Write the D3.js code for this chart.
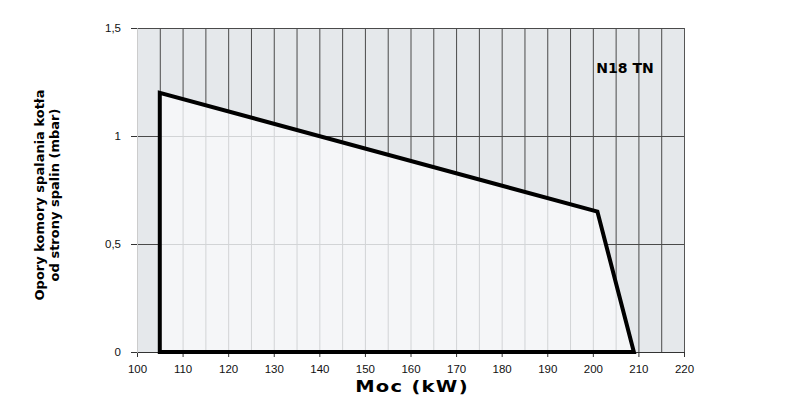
<!DOCTYPE html>
<html><head><meta charset="utf-8">
<script src="https://cdn.jsdelivr.net/npm/d3@7"></script>
<style>body{margin:0;background:#fff}</style>
</head><body>
<svg id="c" width="800" height="400"></svg>
<script>
const xTicks = [100,110,120,130,140,150,160,170,180,190,200,210,220];
const yTicks = [0,0.5,1,1.5];
const yTickLabels = ["0","0,5","1","1,5"];
const gridX = d3.range(100,221,5);
const curveX = [105,105,201,209];
const curveY = [0,1.2,0.65,0];
const title = "N18 TN";
const xLabel = "Moc (kW)";
const yLabel = ["Opory komory spalania kotła","od strony spalin (mbar)"];

const svg = d3.select("#c");
const x = d3.scaleLinear().domain([100,220]).range([137,684]);
const y = d3.scaleLinear().domain([0,1.5]).range([352,28]);
const pts = curveX.map((d,i)=>[x(d),y(curveY[i])]);
const ptsStr = pts.map(p=>p.join(",")).join(" ");

svg.append("rect").attr("x",x(100)).attr("y",y(1.5)).attr("width",x(220)-x(100)).attr("height",y(0)-y(1.5)).attr("fill","#e5e8eb");
const gDark = svg.append("g").attr("stroke","#4a4a4a").attr("stroke-width",1);
gridX.forEach(v=>gDark.append("line").attr("x1",x(v)+0.5).attr("x2",x(v)+0.5).attr("y1",y(1.5)).attr("y2",y(0)));
[0.5,1,1.5].forEach(v=>gDark.append("line").attr("x1",x(100)).attr("x2",x(220)).attr("y1",y(v)+0.5).attr("y2",y(v)+0.5));

svg.append("clipPath").attr("id","poly").append("polygon").attr("points",ptsStr);
svg.append("polygon").attr("points",ptsStr).attr("fill","#f5f6f8");
const gLight = svg.append("g").attr("clip-path","url(#poly)").attr("stroke","#d2d4d6").attr("stroke-width",1);
gridX.forEach(v=>gLight.append("line").attr("x1",x(v)+0.5).attr("x2",x(v)+0.5).attr("y1",y(1.5)).attr("y2",y(0)));
[0.5,1].forEach(v=>gLight.append("line").attr("x1",x(100)).attr("x2",x(220)).attr("y1",y(v)+0.5).attr("y2",y(v)+0.5));

// axes
svg.append("g").attr("transform",`translate(0,${y(0)})`)
  .call(d3.axisBottom(x).tickValues(xTicks).tickSize(5).tickPadding(8))
  .call(g=>{g.select(".domain").attr("stroke","#333");g.selectAll("line").attr("stroke","#333");
    g.selectAll("text").attr("font-family","Liberation Sans, Arial, sans-serif").attr("font-size",11.5).attr("fill","#111");});
svg.append("g").attr("transform",`translate(${x(100)},0)`)
  .call(d3.axisLeft(y).tickValues(yTicks).tickFormat((d,i)=>yTickLabels[i]).tickSize(6).tickPadding(10))
  .call(g=>{g.select(".domain").attr("stroke","#ccc");g.selectAll("line").attr("stroke","#333");
    g.selectAll("text").attr("font-family","Liberation Sans, Arial, sans-serif").attr("font-size",11.5).attr("fill","#111");});
svg.append("line").attr("x1",x(220)+0.5).attr("x2",x(220)+0.5).attr("y1",y(1.5)).attr("y2",y(0)).attr("stroke","#555");

svg.append("polygon").attr("points",ptsStr)
  .attr("fill","none").attr("stroke","#000").attr("stroke-width",4).attr("stroke-linejoin","miter");

svg.append("text").attr("x",625).attr("y",73).attr("text-anchor","middle")
  .attr("font-family","DejaVu Sans, sans-serif").attr("font-weight","bold").attr("font-size",14).text(title);
svg.append("text").attr("transform","translate(412,392) scale(1.3,1)").attr("text-anchor","middle")
  .attr("font-family","DejaVu Sans, sans-serif").attr("font-weight","bold").attr("font-size",15).attr("letter-spacing",1).text(xLabel);
const yl = svg.append("text").attr("transform","translate(48,195) rotate(-90)").attr("text-anchor","middle")
  .attr("font-family","DejaVu Sans, sans-serif").attr("font-weight","bold").attr("font-size",13);
yLabel.forEach((t,i)=>yl.append("tspan").attr("x",0).attr("dy",i?15:-4).text(t));
</script>
</body></html>
